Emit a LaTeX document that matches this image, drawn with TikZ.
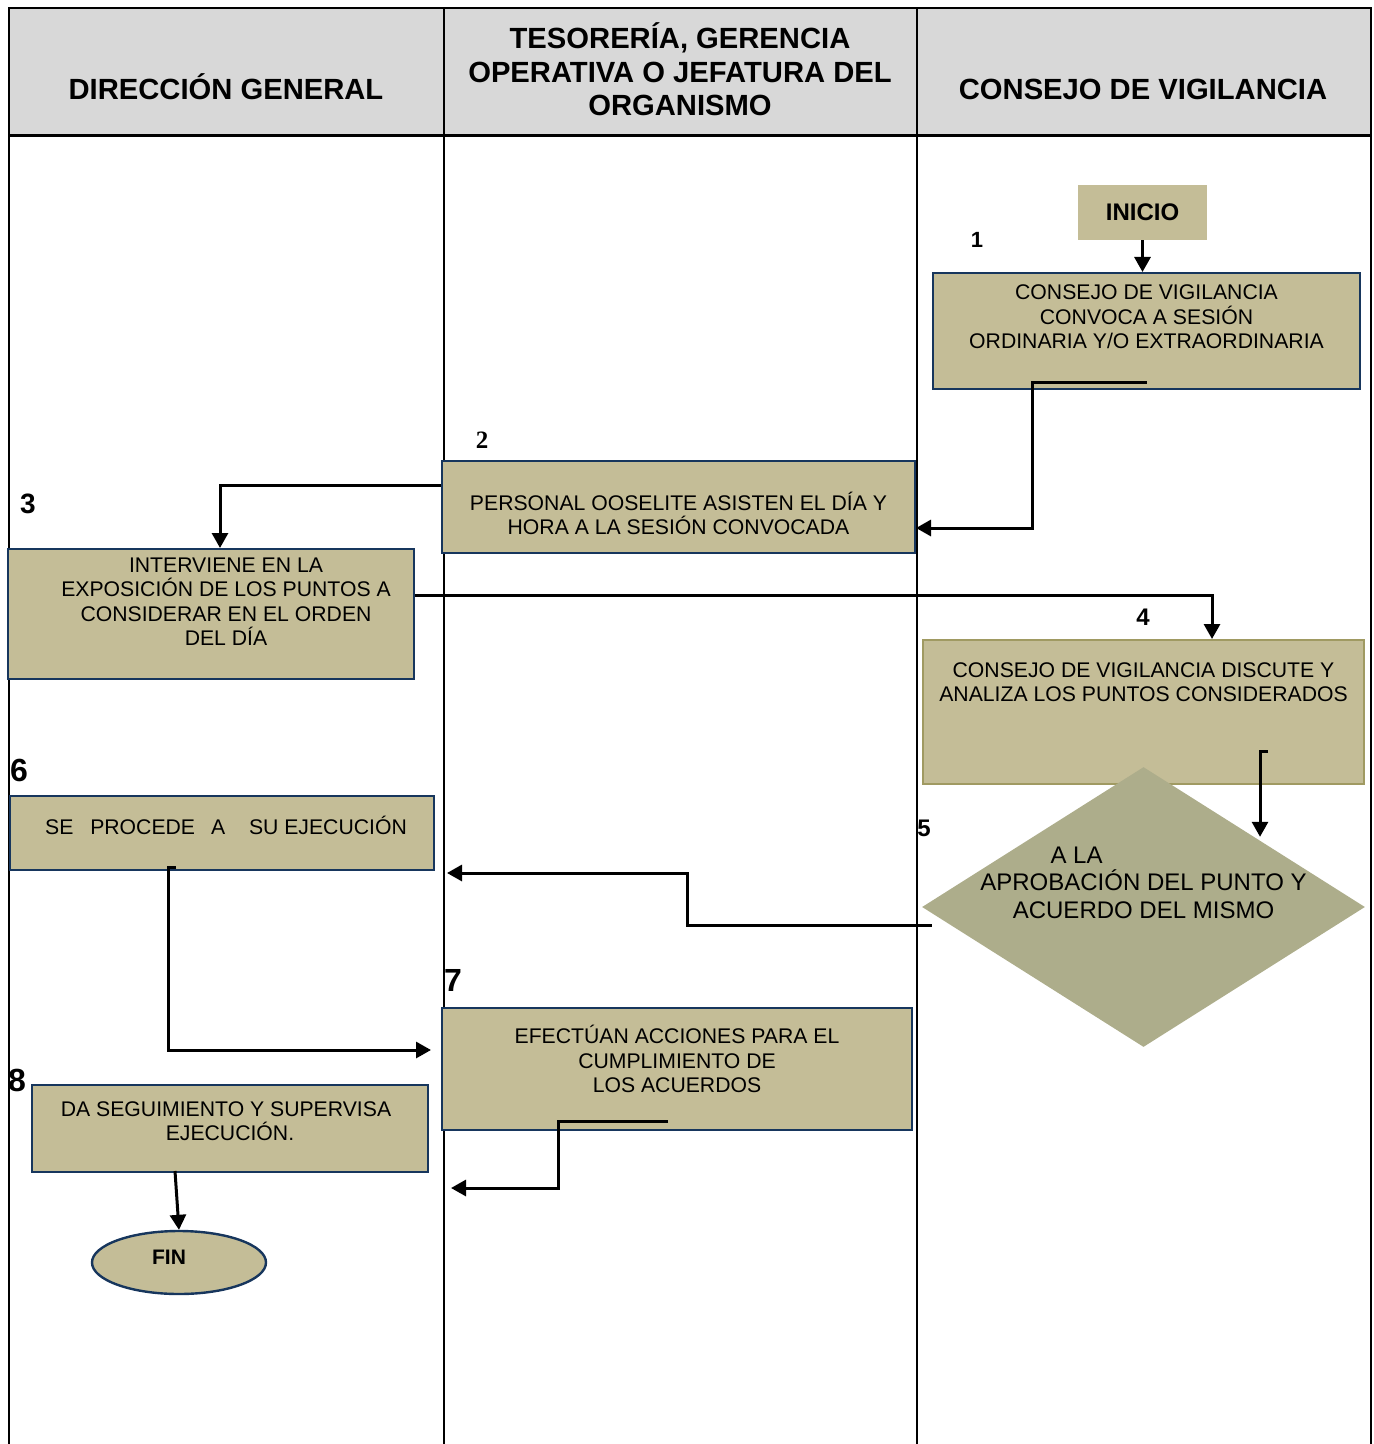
\documentclass[tikz,border=0pt]{standalone}
\usepackage{fontspec}
\setmainfont{Liberation Sans}
\newfontfamily\numserif{Liberation Serif}
\usepackage{tikz}
\usepackage{xcolor}
\usetikzlibrary{shapes,arrows.meta,positioning}

\definecolor{tan}{HTML}{C4BD97}
\definecolor{olivegris}{HTML}{ADAD8B}
\definecolor{marino}{HTML}{17365D}
\definecolor{olivo}{HTML}{A09A62}
\definecolor{encabezado}{HTML}{D8D8D8}

\tikzset{
  caja/.style={draw=marino, line width=1pt, fill=tan, align=center, inner sep=0pt,
    font=\fontsize{10.6}{12.25}\selectfont},
  titulo/.style={font=\bfseries\fontsize{14.6}{16.75}\selectfont, align=center},
  paso/.style={font=\bfseries\fontsize{11}{13}\selectfont, inner sep=0pt},
  pasogrande/.style={font=\bfseries\fontsize{16}{18}\selectfont, inner sep=0pt},
  flujo/.style={line width=1.5pt, -{Triangle[length=7.5pt,width=8pt]}},
}

\begin{document}
\begin{tikzpicture}[x=0.5pt, y=-0.5pt]
    \useasboundingbox (0,0) rectangle (1374,1444);

    % carriles
    \fill[encabezado] (9,8) rectangle (1371,136);
    \draw[line width=1pt] (9,1444) -- (9,8) -- (1371,8) -- (1371,1444);
    \draw[line width=1.5pt] (9,136) -- (1371,136);
    \draw[line width=1pt] (444,8) -- (444,1444);
    \draw[line width=1pt] (917,8) -- (917,1444);
    \node[titulo] (hdg) at (226,87) {DIRECCIÓN GENERAL};
    \node[titulo] (hte) at (680,69.5) {TESORERÍA, GERENCIA\\OPERATIVA O JEFATURA DEL\\ORGANISMO};
    \node[titulo] (hcv) at (1143,89) {CONSEJO DE VIGILANCIA};

    % pasos
    \node[fill=tan, minimum width=64.5pt, minimum height=27.5pt, font=\bfseries\fontsize{12}{14}\selectfont] (ini) at (1142.5,212.5) {INICIO};
    \node[caja, minimum width=213.5pt, minimum height=58pt] (b1) at (1146.5,331)
        {CONSEJO DE VIGILANCIA\\CONVOCA A SESIÓN\\ORDINARIA Y/O EXTRAORDINARIA\\[1.75pt]\mbox{}};
    \node[caja, minimum width=236.5pt, minimum height=46pt] (b2) at (678.5,507)
        {\mbox{}\\[3.5pt]PERSONAL OOSELITE ASISTEN EL DÍA Y\\HORA A LA SESIÓN CONVOCADA};
    \node[caja, minimum width=203pt, minimum height=65pt] (b3) at (211,614)
        {\hspace*{15pt}INTERVIENE EN LA\\\hspace*{15pt}EXPOSICIÓN DE LOS PUNTOS A\\\hspace*{15pt}CONSIDERAR EN EL ORDEN\\\hspace*{15pt}DEL DÍA\\[0pt]\mbox{}};
    \node[caja, draw=olivo, minimum width=220.5pt, minimum height=72pt] (b4) at (1143.5,712)
        {CONSEJO DE VIGILANCIA DISCUTE Y\\ANALIZA LOS PUNTOS CONSIDERADOS\\[17.75pt]\mbox{}};
    \node[diamond, fill=olivegris, minimum width=221.5pt, minimum height=140pt, inner sep=0pt,
        label={[font=\fontsize{12}{13.75}\selectfont, align=center, yshift=12.25pt]center:{A LA\hspace*{67pt}\\APROBACIÓN DEL PUNTO Y\\ACUERDO DEL MISMO}}]
        (d5) at (1143.5,907) {};
    \node[caja, minimum width=212pt, minimum height=37pt] (b6) at (222,833)
        {\hspace*{4pt}SE\hspace{5.5pt} PROCEDE\hspace{5pt} A\hspace{9pt} SU EJECUCIÓN\\[-4.25pt]\mbox{}};
    \node[caja, minimum width=235pt, minimum height=61pt] (b7) at (677,1069)
        {EFECTÚAN ACCIONES PARA EL\\CUMPLIMIENTO DE\\LOS ACUERDOS\\[-2.25pt]\mbox{}};
    \node[caja, minimum width=198pt, minimum height=43.5pt] (b8) at (230,1128.5)
        {DA SEGUIMIENTO Y SUPERVISA\hspace*{4pt}\\EJECUCIÓN.\hspace*{4pt}\\[-4.75pt]\mbox{}};
    \node[ellipse, draw=marino, line width=1.2pt, fill=tan, minimum width=87pt, minimum height=31.5pt,
        font=\bfseries\fontsize{10.5}{12}\selectfont] (fin) at (179,1262.5) {\raisebox{5pt}{FIN}\hspace*{10pt}};

    % numeros
    \node[paso] (n1) at (977,240) {1};
    \node[paso, font=\numserif\bfseries\fontsize{12.5}{14}\selectfont] (n2) at (482,440) {2};
    \node[paso, font=\bfseries\fontsize{14}{16}\selectfont] (n3) at (28,504) {3};
    \node[paso, font=\bfseries\fontsize{12}{14}\selectfont] (n4) at (1143,617) {4};
    \node[paso, font=\bfseries\fontsize{12}{14}\selectfont] (n5) at (924,828) {5};
    \node[pasogrande] (n6) at (19,770) {6};
    \node[pasogrande] (n7) at (453,980) {7};
    \node[pasogrande] (n8) at (17,1080) {8};

    % conectores
    \coordinate (e4) at ([xshift=58.25pt,yshift=17pt]b4.south);
    \draw[flujo] (ini.south) -- (ini.south |- b1.north);
    \draw[flujo] ([yshift=4pt]b1.south) -- ++(-57pt,0) |- ([yshift=-10.5pt]b2.east);
    \draw[flujo] ([yshift=11pt]b2.west) -| ([xshift=4.5pt]b3.north);
    \draw[flujo] ([yshift=9.5pt]b3.east) -| ([xshift=34.25pt]b4.north);
    \draw[flujo] ([xshift=4pt]e4) -- (e4) -- (e4 |- d5.north east);
    \draw[flujo] ([xshift=5pt,yshift=-9pt]d5.west) -- ++(-122pt,0) |- ([xshift=6pt,yshift=-20pt]b6.east);
    \draw[flujo] ([xshift=-23pt,yshift=2pt]b6.south) -- ++(-4pt,0) |- ([xshift=-5pt,yshift=9.5pt]b7.west);
    \draw[flujo] ([xshift=-4.5pt,yshift=5pt]b7.south) -- ++(-55pt,0) |- ([xshift=11pt,yshift=-7.5pt]b8.south east);
    \draw[flujo] ([xshift=-27.5pt,yshift=1pt]b8.south) -- (fin.north);
\end{tikzpicture}
\end{document}
